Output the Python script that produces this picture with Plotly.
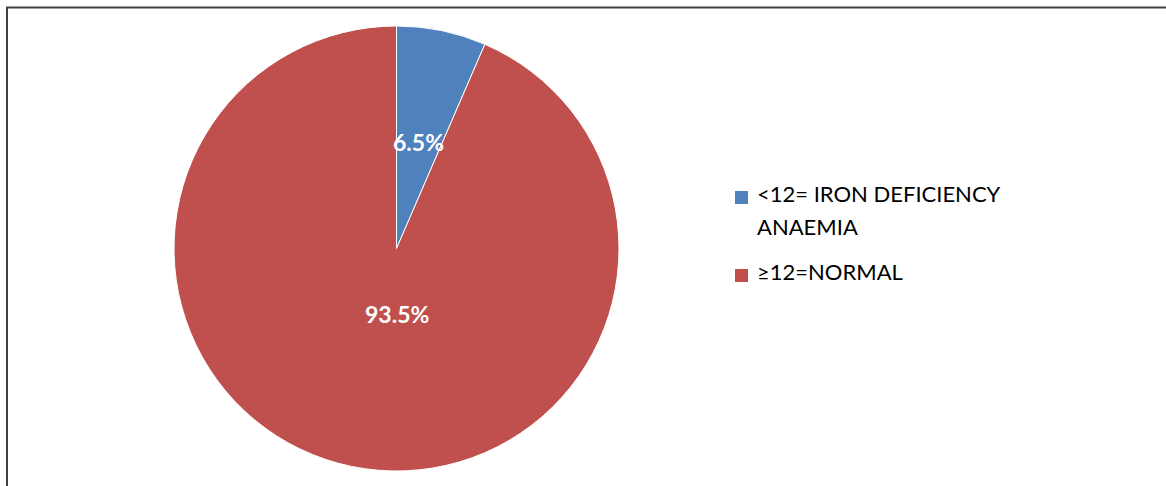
import math
import plotly.graph_objects as go

# Haemoglobin categories and their share of the sample
categories = ["<12= IRON DEFICIENCY<br>ANAEMIA", "≥12=NORMAL"]
shares = [6.5, 93.5]
colors = ["#4F81BD", "#C0504D"]

W, H = 1166, 486
cx, cy, r = 396.5, 248.5, 222.5

fig = go.Figure(
    go.Pie(
        labels=categories,
        values=shares,
        sort=False,
        direction="clockwise",
        rotation=0,
        marker=dict(colors=colors, line=dict(color="#FFFFFF", width=1)),
        textinfo="none",
        domain=dict(x=[(cx - r) / W, (cx + r) / W], y=[1 - (cy + r) / H, 1 - (cy - r) / H]),
        hoverinfo="label+percent",
        showlegend=False,
    )
)

# Percentage labels: small slice on its mid-angle, large slice straight below centre
total = sum(shares)
label_radius = [0.49, 0.295]
annotations = []
start = 0.0
for i, v in enumerate(shares):
    sweep = 360.0 * v / total
    mid = start + sweep / 2
    ang = mid if sweep < 180 else 180.0
    px = cx + label_radius[i] * r * math.sin(math.radians(ang))
    py = cy - label_radius[i] * r * math.cos(math.radians(ang))
    annotations.append(dict(
        x=px / W, y=1 - py / H, xref="paper", yref="paper",
        text=f"<b>{v:.1f}%</b>", showarrow=False, xanchor="center", yanchor="middle",
        font=dict(family="Lato", size=23, color="white"),
    ))
    start += sweep

# Legend drawn as squares plus text lines
shapes = [
    dict(
        type="rect", xref="paper", yref="paper",
        x0=7 / W, x1=1.02, y0=-0.02, y1=1 - 7.5 / H,
        line=dict(color="#404040", width=2), fillcolor="rgba(0,0,0,0)", layer="below",
    )
]
legend_top = [194, 272]
line_gap = 33
for i, name in enumerate(categories):
    ty = legend_top[i]
    shapes.append(dict(
        type="rect", xref="paper", yref="paper",
        x0=735 / W, x1=748 / W, y0=1 - (ty + 10) / H, y1=1 - (ty - 3) / H,
        line=dict(width=0), fillcolor=colors[i],
    ))
    for j, part in enumerate(name.split("<br>")):
        annotations.append(dict(
            x=755 / W, y=1 - (ty - 1 + j * line_gap) / H, xref="paper", yref="paper",
            text=part, showarrow=False, xanchor="left", yanchor="middle",
            font=dict(family="Lato", size=22, color="#000000"),
        ))

fig.update_layout(
    width=W,
    height=H,
    margin=dict(l=0, r=0, t=0, b=0),
    paper_bgcolor="white",
    plot_bgcolor="white",
    shapes=shapes,
    annotations=annotations,
)

fig.write_html("out.html")
